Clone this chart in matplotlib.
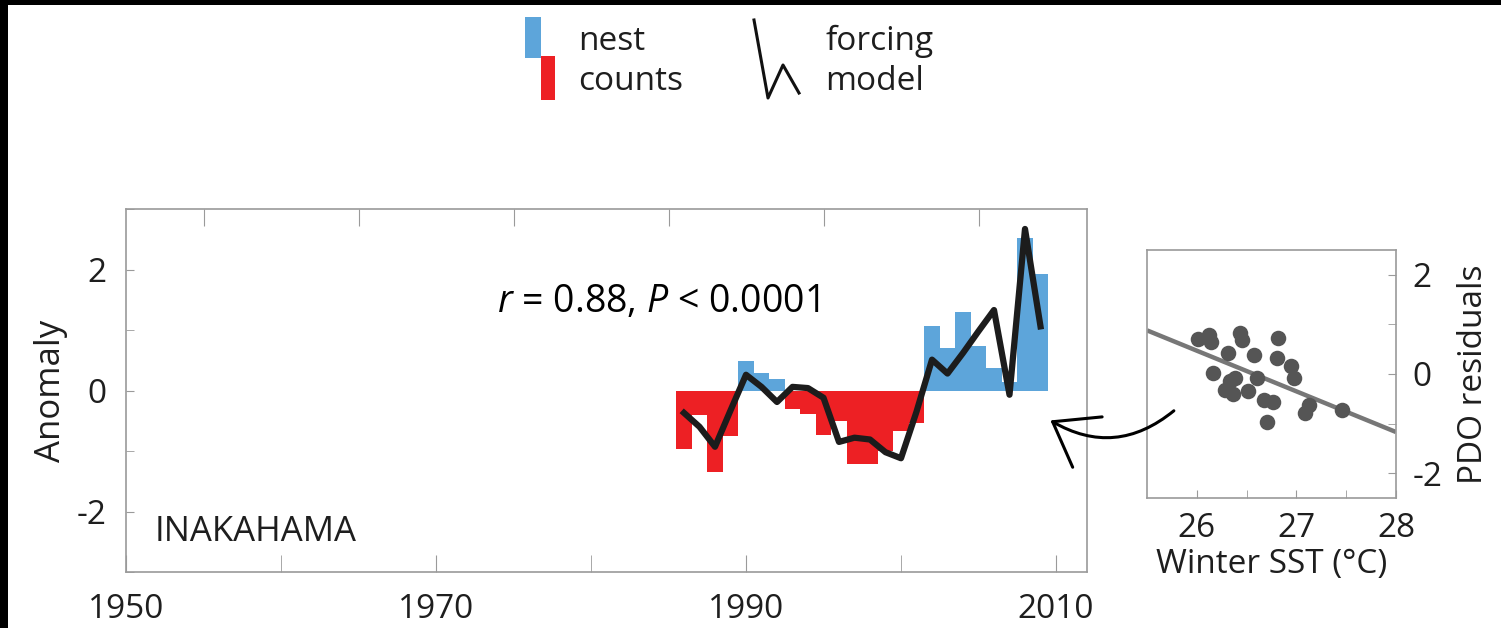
import numpy as np
import matplotlib
matplotlib.use("Agg")
from matplotlib import pyplot as plt
from matplotlib.patches import Rectangle

plt.rcParams['font.family'] = ['Open Sans', 'DejaVu Sans']
plt.rcParams['mathtext.fontset'] = 'custom'
plt.rcParams['mathtext.rm'] = 'Open Sans'
plt.rcParams['mathtext.it'] = 'Open Sans:italic'
plt.rcParams['axes.unicode_minus'] = False

# nest count anomalies and the forcing model, one value per year
years = np.arange(1986, 2010)
nest_counts = [-0.96, -0.41, -1.34, -0.76, 0.48, 0.29, 0.19, -0.31, -0.39, -0.73,
               -0.51, -1.22, -1.21, -1.00, -0.67, -0.54, 1.06, 0.71, 1.29, 0.74,
               0.37, 0.14, 2.52, 1.93]
forcing_model = [-0.37, -0.60, -0.93, -0.33, 0.26, 0.06, -0.19, 0.06, 0.04, -0.12,
                 -0.85, -0.78, -0.81, -1.02, -1.12, -0.35, 0.51, 0.28, 0.62, 0.98,
                 1.33, -0.07, 2.67, 1.06]

# inset: PDO residuals against winter SST
sst = [26.01, 26.12, 26.14, 26.43, 26.45, 26.82, 26.31, 26.57, 26.81, 26.95,
       26.16, 26.38, 26.33, 26.60, 26.98, 26.28, 26.36, 26.51, 26.67, 26.77,
       27.13, 27.09, 27.46, 26.70]
pdo_resid = [0.71, 0.78, 0.65, 0.83, 0.69, 0.73, 0.42, 0.38, 0.33, 0.16,
             0.02, -0.08, -0.14, -0.09, -0.09, -0.32, -0.40, -0.34, -0.52, -0.57,
             -0.63, -0.78, -0.73, -0.96]
fit_sst = [25.5, 28.0]
fit_resid = [0.88, -1.17]

W, H = 1501, 628
fig = plt.figure(figsize=(W / 100, H / 100), dpi=100)

def px_axes(left, top, right, bottom):
    return [left / W, (H - bottom) / H, (right - left) / W, (bottom - top) / H]

blue = '#5da5da'
red = '#ed2024'
spine_c = '#9a9a9a'
txt_c = '#1e1e1e'

# main time series
ax = fig.add_axes(px_axes(126, 209, 1087, 572))
colors = [blue if v > 0 else red for v in nest_counts]
ax.bar(years, nest_counts, width=1.0, color=colors, linewidth=0)
ax.plot(years, forcing_model, color='#1c1c1c', lw=4.5)
ax.set_xlim(1950, 2012)
ax.set_ylim(-3, 3)
ax.set_xticks([1950, 1970, 1990, 2010])
ax.set_xticks([1960, 1980, 2000], minor=True)
ax.set_yticks([-2, 0, 2])
ax.set_yticks([-3, -1, 1, 3], minor=True)
ax.tick_params(axis='both', which='both', direction='in', color=spine_c,
               labelsize=24, labelcolor=txt_c)
ax.tick_params(axis='x', which='both', length=12, pad=15)
ax.tick_params(axis='y', which='both', length=6, pad=14)
ax.set_ylabel('Anomaly', fontsize=25, color=txt_c, labelpad=6)
for s in ax.spines.values():
    s.set_color(spine_c)
    s.set_linewidth(1.2)

top = ax.secondary_xaxis('top')
top.set_xticks(np.arange(1955, 2010, 10))
top.tick_params(direction='in', length=12, color=spine_c, labeltop=False)
for s in top.spines.values():
    s.set_visible(False)

# inset scatter
sc = fig.add_axes(px_axes(1147, 250, 1396, 498))
sc.plot(fit_sst, fit_resid, color='#777777', lw=3.2, solid_capstyle='butt', zorder=2)
sc.scatter(sst, pdo_resid, s=125, color='#555555', linewidths=0, zorder=3)
sc.set_xlim(25.5, 28)
sc.set_ylim(-2.5, 2.5)
sc.set_xticks([26, 27, 28])
sc.set_xticks([26.5, 27.5], minor=True)
sc.set_yticks([-2, 0, 2])
sc.set_yticks([-1, 1], minor=True)
sc.yaxis.tick_right()
sc.yaxis.set_label_position('right')
sc.tick_params(axis='both', which='both', direction='in', length=6, color=spine_c,
               labelsize=24, labelcolor=txt_c)
sc.tick_params(axis='x', pad=10)
sc.tick_params(axis='y', pad=12)
sc.set_xlabel('Winter SST (°C)', fontsize=24, color=txt_c, labelpad=2)
sc.set_ylabel('PDO residuals', fontsize=24, color=txt_c, labelpad=10)
for s in sc.spines.values():
    s.set_color(spine_c)
    s.set_linewidth(1.2)

# overlay in pixel coordinates: legend, labels, arrow, frame strips
ov = fig.add_axes([0, 0, 1, 1], zorder=10)
ov.set_xlim(0, W)
ov.set_ylim(H, 0)
ov.axis('off')
ov.patch.set_alpha(0)

ov.add_patch(Rectangle((525, 17), 15.5, 41, color=blue, lw=0))
ov.add_patch(Rectangle((540.5, 56), 14.5, 44, color=red, lw=0))
ov.text(578, 50, 'nest', fontsize=24, color=txt_c, va='baseline')
ov.text(578, 90, 'counts', fontsize=24, color=txt_c, va='baseline')
ov.plot([754, 768, 783, 799], [20, 98, 65, 93], color='#111111', lw=2.2)
ov.text(825, 50, 'forcing', fontsize=24, color=txt_c, va='baseline')
ov.text(825, 90, 'model', fontsize=24, color=txt_c, va='baseline')

ov.text(497, 312, '$r$ = 0.88, $P$ < 0.0001', fontsize=27, color='k', va='baseline')
ov.text(155, 541, 'INAKAHAMA', fontsize=25, color=txt_c, va='baseline')

ov.annotate('', xy=(1048, 419), xytext=(1176, 409),
            arrowprops=dict(arrowstyle='->,head_length=1.45,head_width=1.05',
                            connectionstyle='arc3,rad=-0.36', lw=2.2,
                            color='k', mutation_scale=20))

ov.add_patch(Rectangle((0, 0), 8, H, color='k', lw=0))
ov.add_patch(Rectangle((0, 0), W, 5, color='k', lw=0))

fig.savefig('out.png', dpi=100)
